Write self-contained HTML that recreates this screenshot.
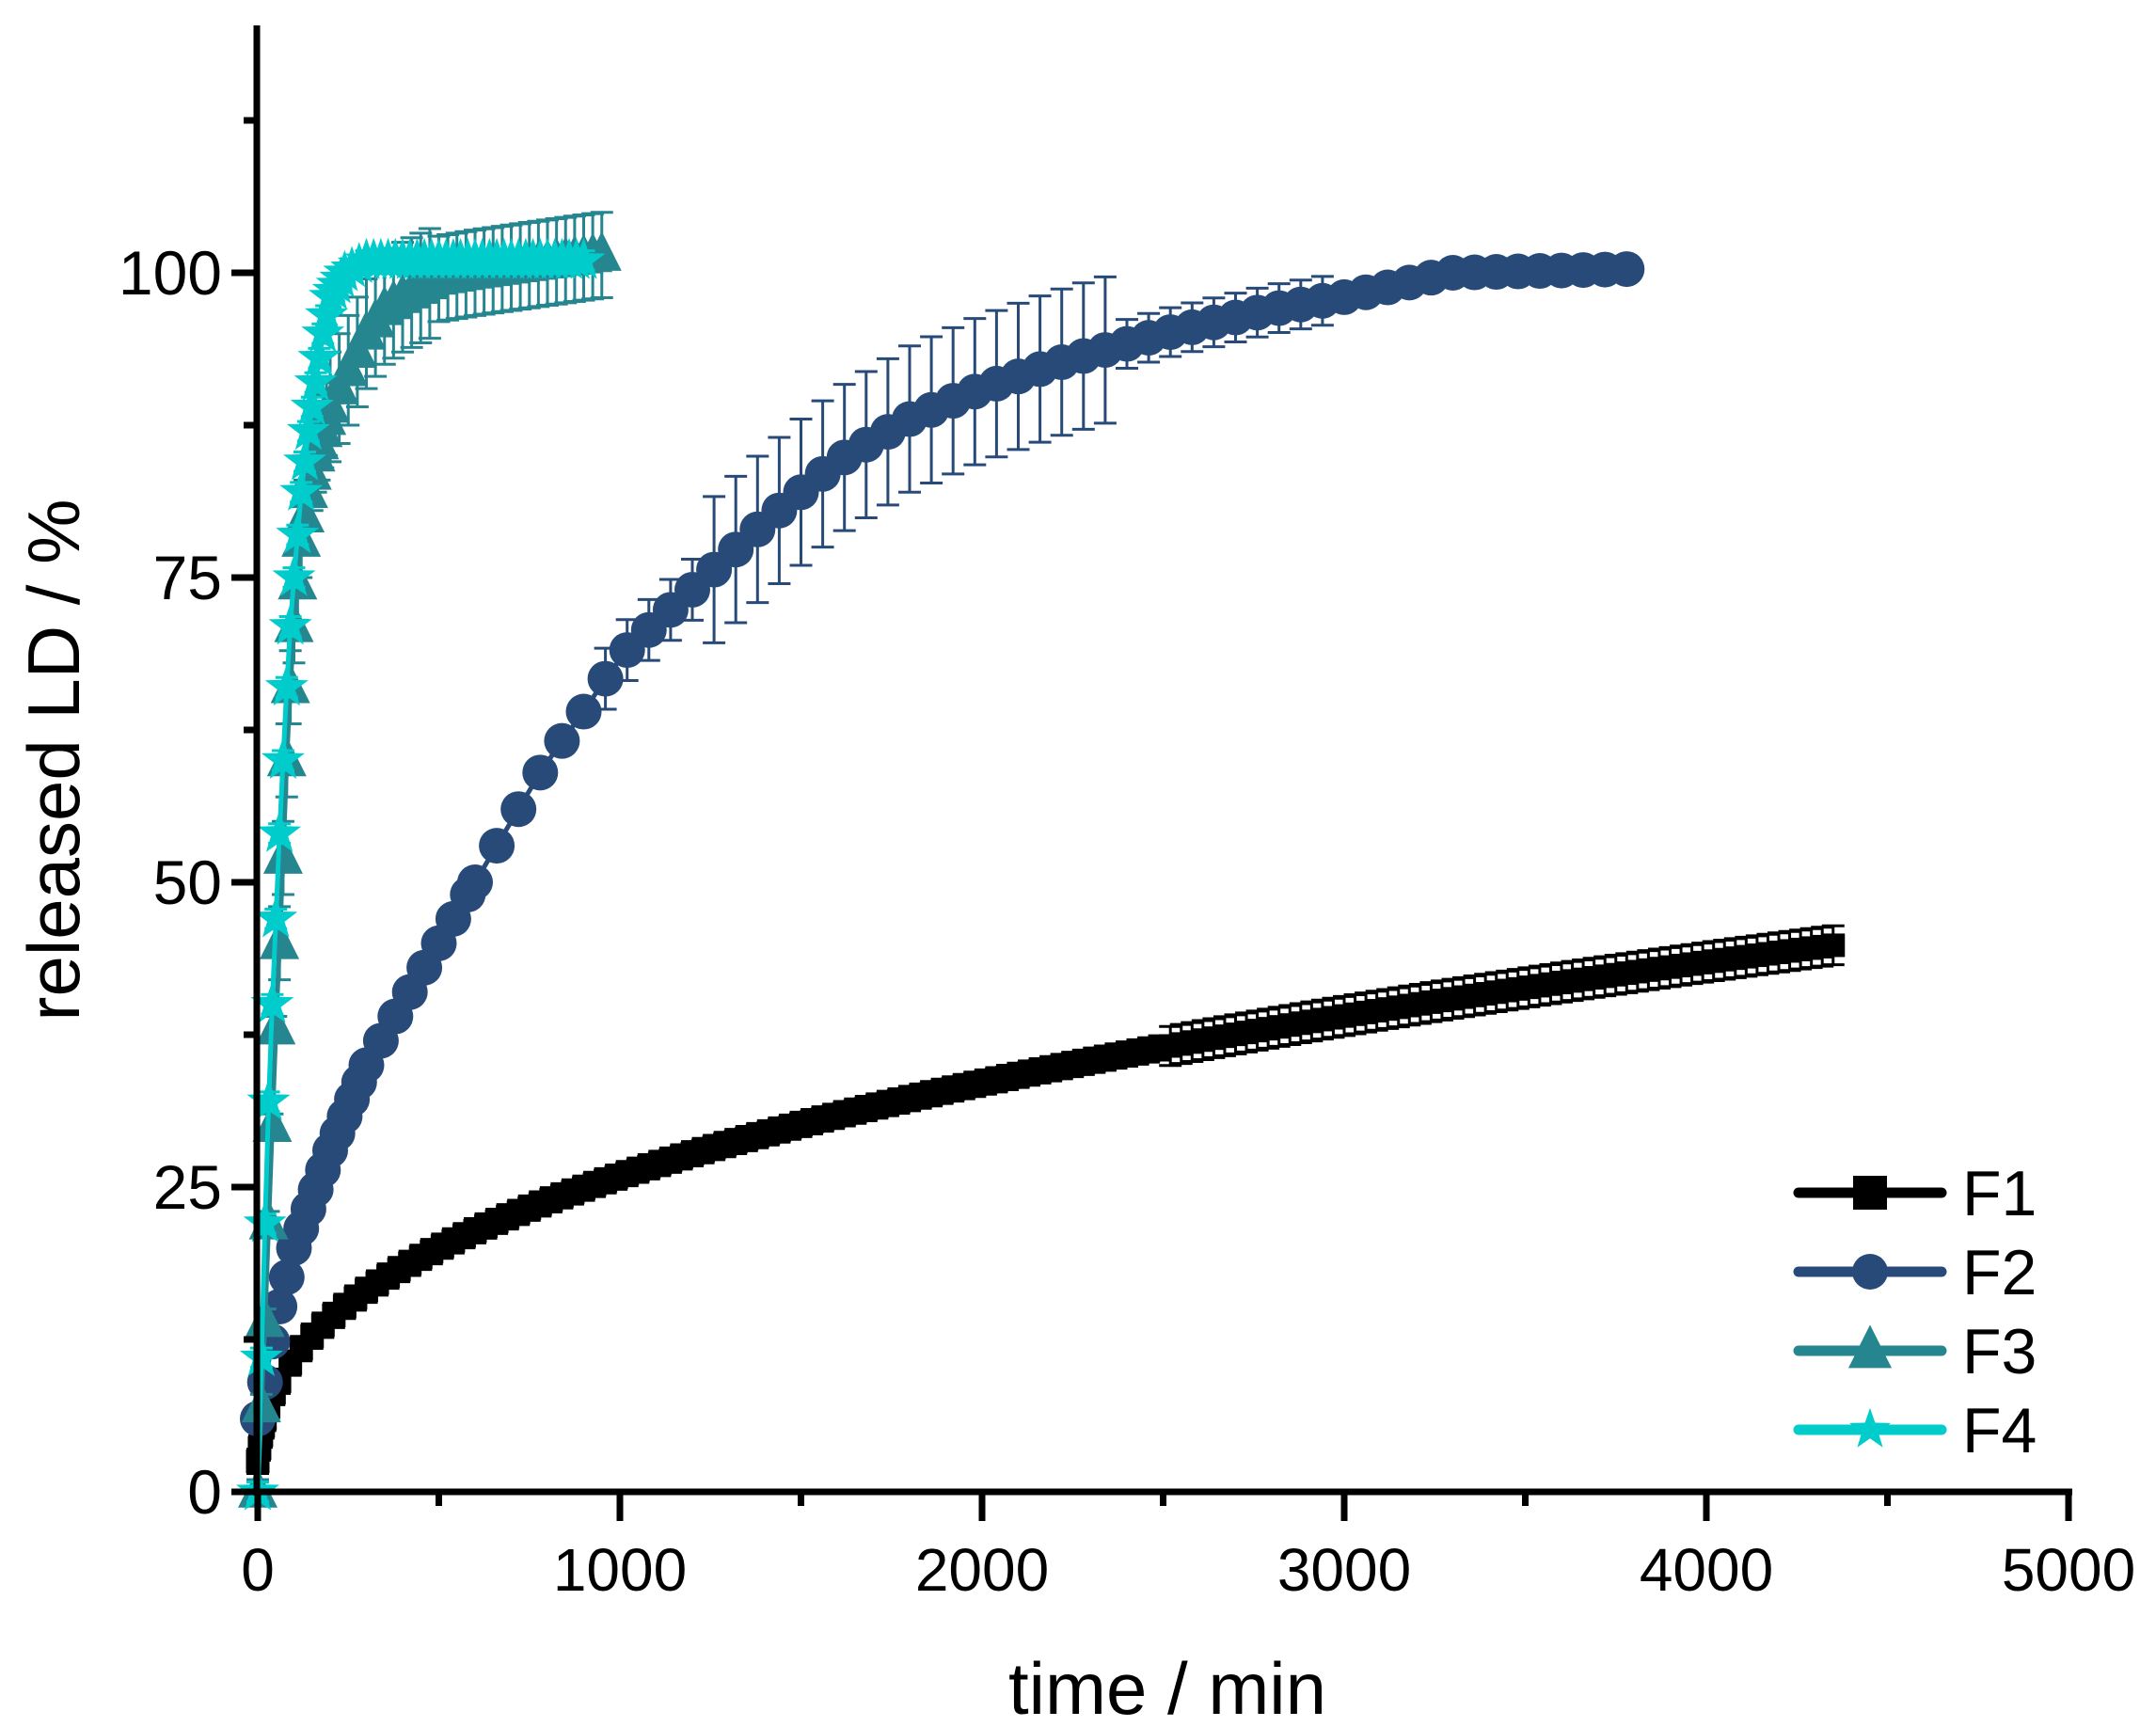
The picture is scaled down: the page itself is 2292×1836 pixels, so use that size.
<!DOCTYPE html>
<html><head><meta charset="utf-8"><style>
html,body{margin:0;padding:0;background:#fff;}
svg{display:block;}
text{font-family:"Liberation Sans",Arial,sans-serif;fill:#000;}
</style></head><body>
<svg id="s" width="2292" height="1836" xmlns="http://www.w3.org/2000/svg"></svg>
<script>
const S=document.getElementById('s');
const X=t=>274+t*0.385, Y=v=>1586-v*12.96;
let h='';
function interp(tab,t){for(let i=1;i<tab.length;i++){if(t<=tab[i][0]){const a=tab[i-1],b=tab[i];return a[1]+(b[1]-a[1])*(t-a[0])/(b[0]-a[0]);}}return tab[tab.length-1][1];}
function series(ts,f,err,col,mk,sz){
  let pts=ts.map(t=>[X(t),Y(f(t)),err(t)]);
  let eb='';
  pts.forEach(p=>{const e=p[2]*12.96;if(e>2){eb+=`M${p[0]} ${p[1]-e}V${p[1]+e}M${p[0]-12} ${p[1]-e}h24M${p[0]-12} ${p[1]+e}h24`;}});
  h+=`<path d="${eb}" stroke="${col}" stroke-width="3" fill="none"/>`;
  h+=`<polyline points="${pts.map(p=>p[0].toFixed(1)+','+p[1].toFixed(1)).join(' ')}" stroke="${col}" stroke-width="5" fill="none"/>`;
  pts.forEach(p=>h+=marker(mk,p[0],p[1],col,sz));
}
function marker(mk,x,y,c,s){
  if(mk=='sq')return `<rect x="${x-s/2}" y="${y-s/2}" width="${s}" height="${s}" fill="${c}"/>`;
  if(mk=='ci')return `<circle cx="${x}" cy="${y}" r="${s/2}" fill="${c}"/>`;
  if(mk=='tr')return `<polygon points="${x},${y-s*0.6} ${x-s/2},${y+s*0.4} ${x+s/2},${y+s*0.4}" fill="${c}"/>`;
  let p=[];for(let i=0;i<10;i++){const r=i%2?s*0.22:s*0.55,a=-Math.PI/2+i*Math.PI/5;p.push((x+r*Math.cos(a)).toFixed(1)+','+(y+r*Math.sin(a)).toFixed(1));}
  return `<polygon points="${p.join(' ')}" fill="${c}"/>`;
}
// F1
let t1=[0,5,10,15,20,30,45,60];for(let t=90;t<=4350;t+=30)t1.push(t);
series(t1,t=>t==0?2.5:Math.max(2.5,1.97*Math.pow(t,0.373)),t=>t>2500?1.6:1.0,'#000','sq',25);
// F2
const f2=[[0,6],[20,9],[50,14],[100,20],[200,28],[300,35],[400,40],[500,45],[600,50],[700,55],[800,60],[900,64],[1000,68.5],[1200,74],[1400,79.5],[1600,84.5],[1800,88],[2000,90.5],[2200,92.5],[2500,95],[2800,97],[3000,98],[3300,100],[3780,100.3]];
let t2=[];for(let t=0;t<300;t+=20)t2.push(t);for(let t=300;t<600;t+=40)t2.push(t);for(let t=600;t<=3780;t+=60)t2.push(t);
series(t2,t=>interp(f2,t),t=>(t>1200&&t<2400)?6:(t>900&&t<=1200?2.5:(t>=2400&&t<3000?2:0)),'#284a78','ci',38);
// F3
const f3=[[0,0],[10,7],[20,14],[30,22],[40,30],[50,38],[60,45],[70,52],[80,60],[90,66],[100,71],[120,78],[140,82],[160,85],[180,87],[200,89],[250,92],[300,95],[350,97],[400,98],[500,99.5],[600,100],[960,101.5]];
let t3=[];for(let t=0;t<200;t+=10)t3.push(t);for(let t=200;t<=960;t+=25)t3.push(t);
series(t3,t=>interp(f3,t),t=>t<60?1:(t<200?3:(t<500?4.5:3.5)),'#268690','tr',42);
// F4
const f4=[[0,0],[10,11],[20,22],[30,32],[40,40],[50,47],[60,54],[70,60],[80,66],[90,71],[100,75],[120,82],[140,87],[160,91],[180,95],[200,98],[240,100],[300,101],[960,101]];
let t4=[];for(let t=0;t<240;t+=10)t4.push(t);for(let t=240;t<=900;t+=20)t4.push(t);
series(t4,t=>interp(f4,t),t=>0.8,'#00cccc','st',44);
// axes
let ax=`<path d="M273 27V1590M270 1586H2203" stroke="#000" stroke-width="7" fill="none"/>`;
for(let v=0;v<=112.5;v+=12.5){const y=Y(v);const maj=v%25==0;ax+=`<path d="M${maj?246:259} ${y}H273" stroke="#000" stroke-width="7"/>`;if(maj)ax+=`<text x="236" y="${y+23}" font-size="66" text-anchor="end">${v}</text>`;}
for(let t=0;t<=5000;t+=500){const x=X(t);const maj=t%1000==0;ax+=`<path d="M${x} 1586V${maj?1617:1601}" stroke="#000" stroke-width="7"/>`;if(maj)ax+=`<text x="${x}" y="1691" font-size="64" text-anchor="middle">${t}</text>`;}
ax+=`<text x="1241" y="1822" font-size="78" text-anchor="middle">time / min</text>`;
ax+=`<text transform="translate(84 808) rotate(-90)" font-size="78" text-anchor="middle">released LD / %</text>`;
// legend
const L=[['F1','#000','sq',36],['F2','#284a78','ci',38],['F3','#268690','tr',46],['F4','#00cccc','st',42]];
L.forEach((l,i)=>{const y=1268+i*84;ax+=`<path d="M1912 ${y}H2064" stroke="${l[1]}" stroke-width="11" stroke-linecap="round"/>`+marker(l[2],1988,y,l[1],l[3])+`<text x="2086" y="${y+24}" font-size="68">${l[0]}</text>`;});
S.innerHTML=h+ax;
</script>
</body></html>
